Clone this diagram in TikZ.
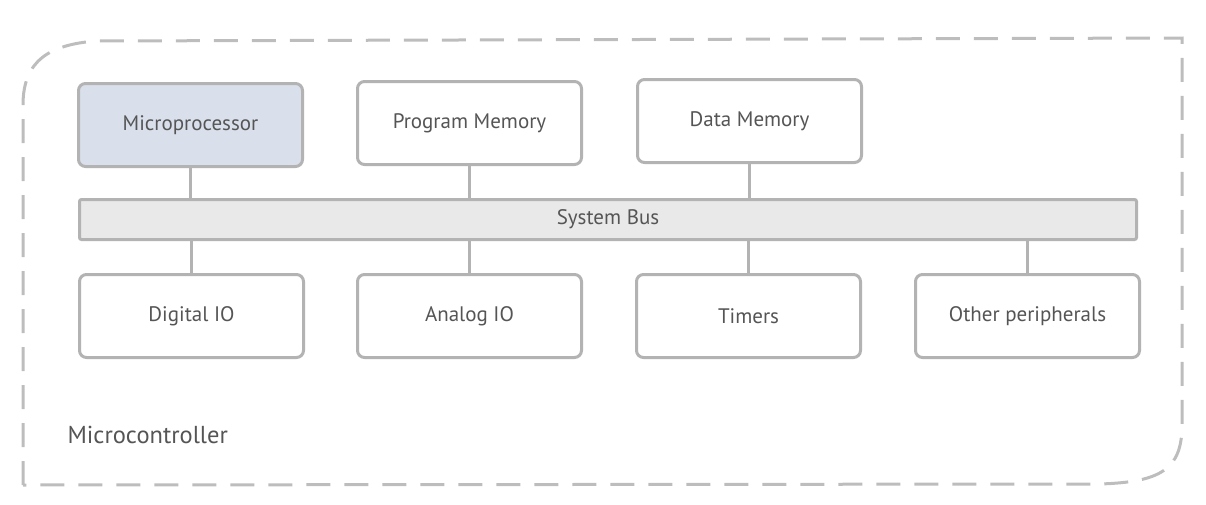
\documentclass[tikz,border=0pt]{standalone}
\usepackage{fontspec}
\setmainfont{PT Sans}
\definecolor{strokegray}{HTML}{B3B3B3}
\definecolor{dashgray}{HTML}{BDBDBD}
\definecolor{txtgray}{HTML}{555555}
\definecolor{cpufill}{HTML}{D9E0EC}
\definecolor{busfill}{HTML}{E9E9E9}
\begin{document}
\begin{tikzpicture}[x=1pt,y=-1pt,
  box/.style={draw=strokegray, line width=3pt, rounded corners=7pt, fill=white,
    minimum width=224pt, minimum height=83pt, inner sep=0pt, anchor=north west,
    text=txtgray, font=\fontsize{21}{24}\selectfont},
  busbox/.style={draw=strokegray, line width=3pt, rounded corners=2pt, fill=busfill,
    minimum width=1057pt, minimum height=40pt, inner sep=0pt, anchor=north west,
    text=txtgray, font=\fontsize{21}{24}\selectfont},
  link/.style={draw=strokegray, line width=3pt},
  frame/.style={draw=dashgray, line width=3pt, dash pattern=on 24pt off 14pt}]
\useasboundingbox (0,0) rectangle (1206,504);
% outer frame
\draw[frame] (23,485) -- (23,105) .. controls (23,60) and (50,45) .. (95,41)
  -- (1182,38) -- (1182,425) .. controls (1182,470) and (1160,482) .. (1100,484) -- cycle;
\node[anchor=west, text=txtgray, font=\fontsize{24.5}{28}\selectfont] (mc) at (64,435) {Microcontroller};
% top row
\node[box, fill=cpufill] (cpu) at (77,82) {Microprocessor};
\node[box] (pm) at (356,80) {Program Memory};
\node[box] (dm) at (636,78) {Data Memory};
% bus
\node[busbox] (bus) at (78,198) {System Bus};
% bottom row
\node[box] (dio) at (78,273) {Digital IO};
\node[box] (aio) at (356,273) {Analog IO};
\node[box] (tim) at (635,273) {Timers};
\node[box] (oth) at (914,273) {Other peripherals};
% links
\draw[link] (cpu.south) -- (cpu.south |- bus.north);
\draw[link] (pm.south) -- (pm.south |- bus.north);
\draw[link] (dm.south) -- (dm.south |- bus.north);
\draw[link] (dio.north) -- (dio.north |- bus.south);
\draw[link] (aio.north) -- (aio.north |- bus.south);
\draw[link] (tim.north) -- (tim.north |- bus.south);
\draw[link] (oth.north) -- (oth.north |- bus.south);
\end{tikzpicture}
\end{document}
